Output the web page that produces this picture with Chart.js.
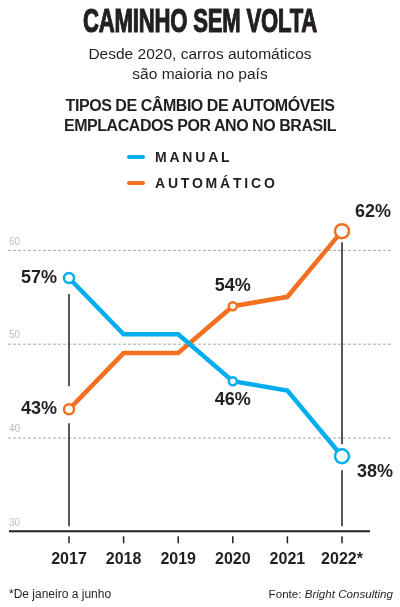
<!DOCTYPE html>
<html>
<head>
<meta charset="utf-8">
<script src="https://cdn.jsdelivr.net/npm/chart.js@4"></script>
<style>
  html, body { margin: 0; padding: 0; background: #fff; }
  body { width: 400px; height: 607px; position: relative; overflow: hidden; font-family: "Liberation Sans", Arial, sans-serif; color: #231f20; }
  #chartBox { position: absolute; left: 0; top: 0; width: 400px; height: 607px; }
  .abs { position: absolute; white-space: nowrap; }
  #title { left: 0; width: 400px; top: 3px; text-align: center; font-family: "Liberation Sans Narrow", sans-serif; font-weight: bold; font-size: 34px; line-height: 34px; }
  #title span { display: inline-block; transform: scaleX(0.65); letter-spacing: -0.3px; -webkit-text-stroke: 1.2px #231f20; }
  #sub { left: 0; width: 400px; top: 44px; text-align: center; font-size: 15.5px; line-height: 20px; }
  #head { left: 0; width: 400px; top: 96px; text-align: center; font-weight: bold; font-size: 16px; line-height: 20px; letter-spacing: -0.45px; }
  .leg { left: 127px; font-weight: bold; font-size: 14px; line-height: 14px; letter-spacing: 2.8px; }
  .leg i { position: absolute; left: 0; width: 18px; height: 4.5px; border-radius: 3px; }
  .leg b { position: absolute; left: 28px; top: 0; }
  .foot { top: 588px; font-size: 12px; line-height: 12px; }
</style>
</head>
<body>
<div id="chartBox"><canvas id="lineChart" width="400" height="607"></canvas></div>
<div id="title" class="abs"><span>CAMINHO SEM VOLTA</span></div>
<div id="sub" class="abs">Desde 2020, carros automáticos<br>são maioria no país</div>
<div id="head" class="abs">TIPOS DE CÂMBIO DE AUTOMÓVEIS<br>EMPLACADOS POR ANO NO BRASIL</div>
<div id="legend"></div>
<div class="abs foot" style="left:9px">*De janeiro a junho</div>
<div class="abs foot" style="right:7px;font-size:11.6px">Fonte: <i>Bright Consulting</i></div>
<script>
const years = ["2017", "2018", "2019", "2020", "2021", "2022*"];
const manual = [57, 51, 51, 46, 45, 38];
const automatico = [43, 49, 49, 54, 55, 62];
const seriesNames = ["MANUAL", "AUTOMÁTICO"];
const yTicks = [30, 40, 50, 60];

const BLUE = "#00aeef";
const ORANGE = "#f37021";
const INK = "#231f20";

// legend
const legendTops = [150, 176];
const legendColors = [BLUE, ORANGE];
document.getElementById("legend").innerHTML = seriesNames.map((name, i) =>
  `<div class="abs leg" style="top:${legendTops[i]}px"><i style="top:${4.5}px;background:${legendColors[i]}"></i><b>${name}</b></div>`
).join("");

// label placement per point: [align, dx, dy]
const labelPos = [
  { 0: ["right", -12, 0], 3: ["center", 0, 19], 5: ["left", 15, 16] },
  { 0: ["right", -12, 0], 3: ["center", 0, -20], 5: ["left", 13, -19] }
];

const backdrop = {
  id: "backdrop",
  beforeDatasetsDraw(chart) {
    const ctx = chart.ctx;
    const y = chart.scales.y;
    const x = chart.scales.x;
    const base = y.getPixelForValue(yTicks[0]);
    ctx.save();
    // dashed grid + tick values
    ctx.font = "10px 'Liberation Sans', sans-serif";
    ctx.textAlign = "left";
    ctx.textBaseline = "middle";
    yTicks.forEach(v => {
      const py = y.getPixelForValue(v);
      if (v !== yTicks[0]) {
        ctx.strokeStyle = "#a7a9ac";
        ctx.lineWidth = 1;
        ctx.setLineDash([3, 2]);
        ctx.beginPath();
        ctx.moveTo(8, py + 0.5);
        ctx.lineTo(393, py + 0.5);
        ctx.stroke();
      }
      ctx.fillStyle = "#bcbec0";
      ctx.fillText(String(v), 9, py - 8);
    });
    ctx.setLineDash([]);
    // axis + ticks
    ctx.strokeStyle = INK;
    ctx.lineWidth = 2;
    ctx.beginPath();
    ctx.moveTo(9, base);
    ctx.lineTo(370, base);
    ctx.stroke();
    ctx.lineWidth = 1.5;
    years.forEach((_, i) => {
      const px = x.getPixelForValue(i);
      ctx.beginPath();
      ctx.moveTo(px, base + 5);
      ctx.lineTo(px, base + 12);
      ctx.stroke();
    });
    // drop lines at first and last year
    const seg = (px, a, b) => { ctx.beginPath(); ctx.moveTo(px, a); ctx.lineTo(px, b); ctx.stroke(); };
    const first = 0, last = years.length - 1;
    let px = x.getPixelForValue(first);
    seg(px, y.getPixelForValue(manual[first]) + 16, y.getPixelForValue(automatico[first]) - 23);
    seg(px, y.getPixelForValue(automatico[first]) + 14, base - 5);
    px = x.getPixelForValue(last);
    seg(px, y.getPixelForValue(automatico[last]) + 11, y.getPixelForValue(manual[last]) - 12);
    seg(px, y.getPixelForValue(manual[last]) + 14, base - 5);
    ctx.restore();
  },
  afterDatasetsDraw(chart) {
    const ctx = chart.ctx;
    ctx.save();
    ctx.font = "bold 18px 'Liberation Sans', sans-serif";
    ctx.fillStyle = INK;
    ctx.textBaseline = "middle";
    chart.data.datasets.forEach((ds, d) => {
      const meta = chart.getDatasetMeta(d);
      Object.keys(labelPos[d]).forEach(k => {
        const [align, dx, dy] = labelPos[d][k];
        const pt = meta.data[k];
        ctx.textAlign = align;
        ctx.fillText(ds.data[k] + "%", pt.x + dx, pt.y + dy);
      });
    });
    ctx.restore();
  }
};

const lineStyle = color => ({
  borderColor: color,
  borderWidth: 4.5,
  borderJoinStyle: "miter",
  pointRadius: [5, 0, 0, 4, 0, 7],
  pointBorderWidth: 2.5,
  pointBackgroundColor: "#fff",
  pointBorderColor: color,
  tension: 0,
  clip: false
});

new Chart(document.getElementById("lineChart"), {
  type: "line",
  data: {
    labels: years,
    datasets: [
      { label: seriesNames[0], data: manual, ...lineStyle(BLUE) },
      { label: seriesNames[1], data: automatico, ...lineStyle(ORANGE) }
    ]
  },
  options: {
    responsive: false,
    animation: false,
    events: [],
    layout: { padding: { top: 203, left: 69, right: 58, bottom: 18.5 } },
    plugins: { legend: { display: false }, tooltip: { enabled: false } },
    scales: {
      x: {
        grid: { display: false, drawTicks: false },
        border: { display: false },
        ticks: {
          color: INK,
          padding: 19,
          maxRotation: 0,
          autoSkip: false,
          font: { family: "'Liberation Sans Narrow', sans-serif", weight: "bold", size: 16 }
        }
      },
      y: { display: false, min: 30, max: 65 }
    }
  },
  plugins: [backdrop]
});
</script>
</body>
</html>
